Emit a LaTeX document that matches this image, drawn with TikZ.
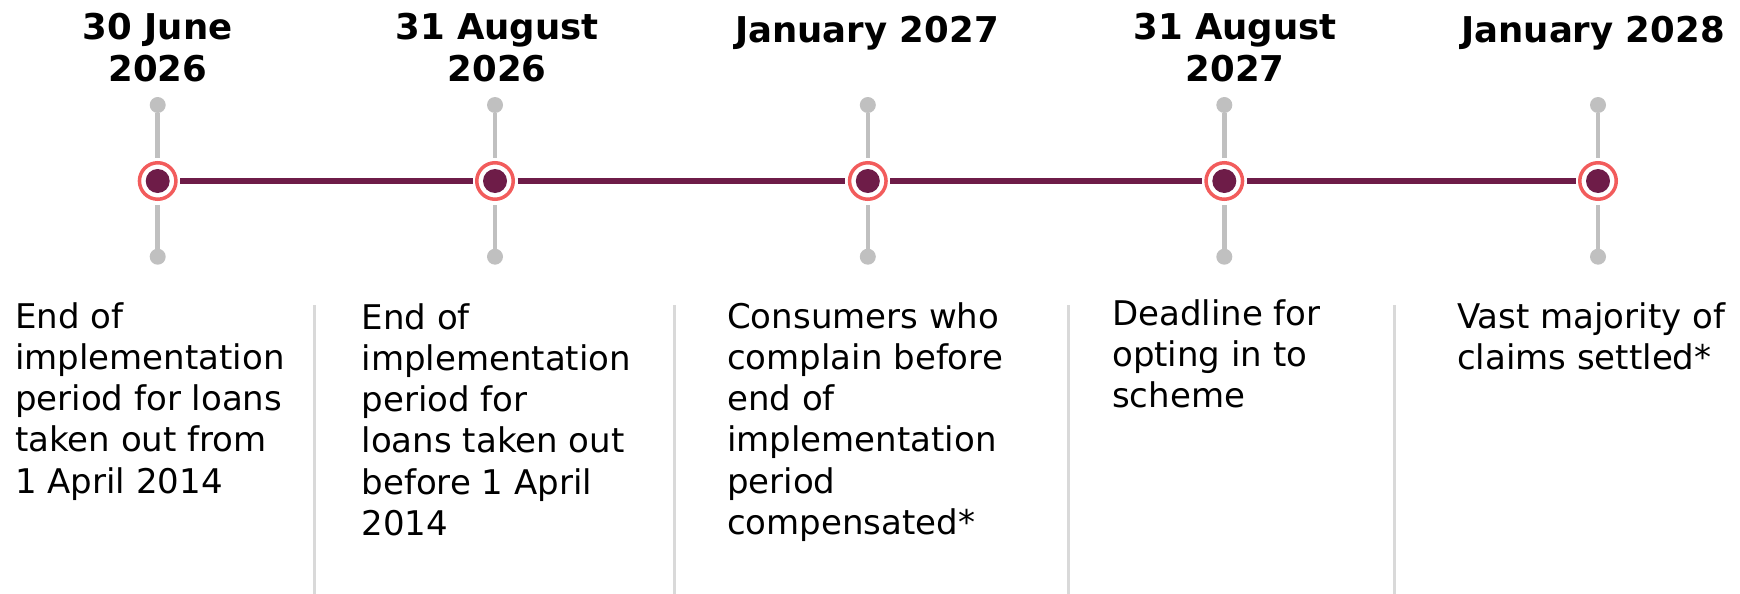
\documentclass[tikz,border=0pt]{standalone}
\usepackage{fontspec}
\setmainfont{DejaVu Sans}
\begin{document}
\definecolor{ringred}{RGB}{242,92,92}
\definecolor{plum}{RGB}{110,28,72}
\definecolor{stemgray}{RGB}{192,192,192}
\definecolor{rulegray}{RGB}{217,217,217}
\begin{tikzpicture}[x=1pt,y=-1pt,
  ring/.style={circle,draw=ringred,line width=3.5pt,fill=white,minimum size=36.5pt,inner sep=0pt},
  core/.style={circle,fill=plum,minimum size=24pt,inner sep=0pt},
  knob/.style={circle,fill=stemgray,minimum size=16pt,inner sep=0pt},
  stem/.style={stemgray,line width=4.5pt,shorten >=3.5pt},
  track/.style={plum,line width=5.5pt,shorten <=2.5pt,shorten >=2.5pt},
  divider/.style={rulegray,line width=3pt},
  datehead/.style={anchor=base,inner sep=0pt,font=\fontsize{35.5}{42}\selectfont\bfseries},
  note/.style={anchor=base west,inner sep=0pt,font=\fontsize{34}{41.3}\selectfont}]
\useasboundingbox (0,0) rectangle (1740,594);

% milestone markers
\foreach \i/\x in {1/157.7,2/495,3/867.8,4/1224.3,5/1598}{
  \node[ring] (r\i) at (\x,181) {};
  \node[core] (c\i) at (\x,181) {};
  \node[knob] (t\i) at (\x,105) {};
  \node[knob] (b\i) at (\x,256.7) {};
  \draw[stem] (t\i) -- (r\i);
  \draw[stem] (b\i) -- (r\i);
}

% timeline track
\draw[track] (r1) -- (r2);
\draw[track] (r2) -- (r3);
\draw[track] (r3) -- (r4);
\draw[track] (r4) -- (r5);

% dates
\node[datehead] (d1) at (157.7,40) {\parbox[t]{300pt}{\centering 30 June\\2026}};
\node[datehead] (d2) at (497,40) {\parbox[t]{300pt}{\centering 31 August\\2026}};
\node[datehead] (d3) at (867,42.5) {\parbox[t]{300pt}{\centering January 2027}};
\node[datehead] (d4) at (1235,40) {\parbox[t]{300pt}{\centering 31 August\\2027}};
\node[datehead] (d5) at (1593,42.5) {\parbox[t]{300pt}{\centering January 2028}};

% column dividers
\coordinate (v1a) at (314.3,305); \coordinate (v1b) at (314.3,594);
\coordinate (v2a) at (674.3,305); \coordinate (v2b) at (674.3,594);
\coordinate (v3a) at (1068.6,305); \coordinate (v3b) at (1068.6,594);
\coordinate (v4a) at (1394.3,305); \coordinate (v4b) at (1394.3,594);
\draw[divider] (v1a) -- (v1b);
\draw[divider] (v2a) -- (v2b);
\draw[divider] (v3a) -- (v3b);
\draw[divider] (v4a) -- (v4b);

% descriptions
\node[note] (n1) at (15,328) {\parbox[t]{290pt}{\raggedright End of\\implementation\\period for loans\\taken out from\\1 April 2014}};
\node[note] (n2) at (361.5,329) {\parbox[t]{290pt}{\raggedright End of\\implementation\\period for\\loans taken out\\before 1 April\\2014}};
\node[note] (n3) at (727,328) {\parbox[t]{290pt}{\raggedright Consumers who\\complain before\\end of\\implementation\\period\\compensated*}};
\node[note] (n4) at (1112,325) {\parbox[t]{270pt}{\raggedright Deadline for\\opting in to\\scheme}};
\node[note] (n5) at (1457,328) {\parbox[t]{290pt}{\raggedright Vast majority of\\claims settled*}};
\end{tikzpicture}
\end{document}
